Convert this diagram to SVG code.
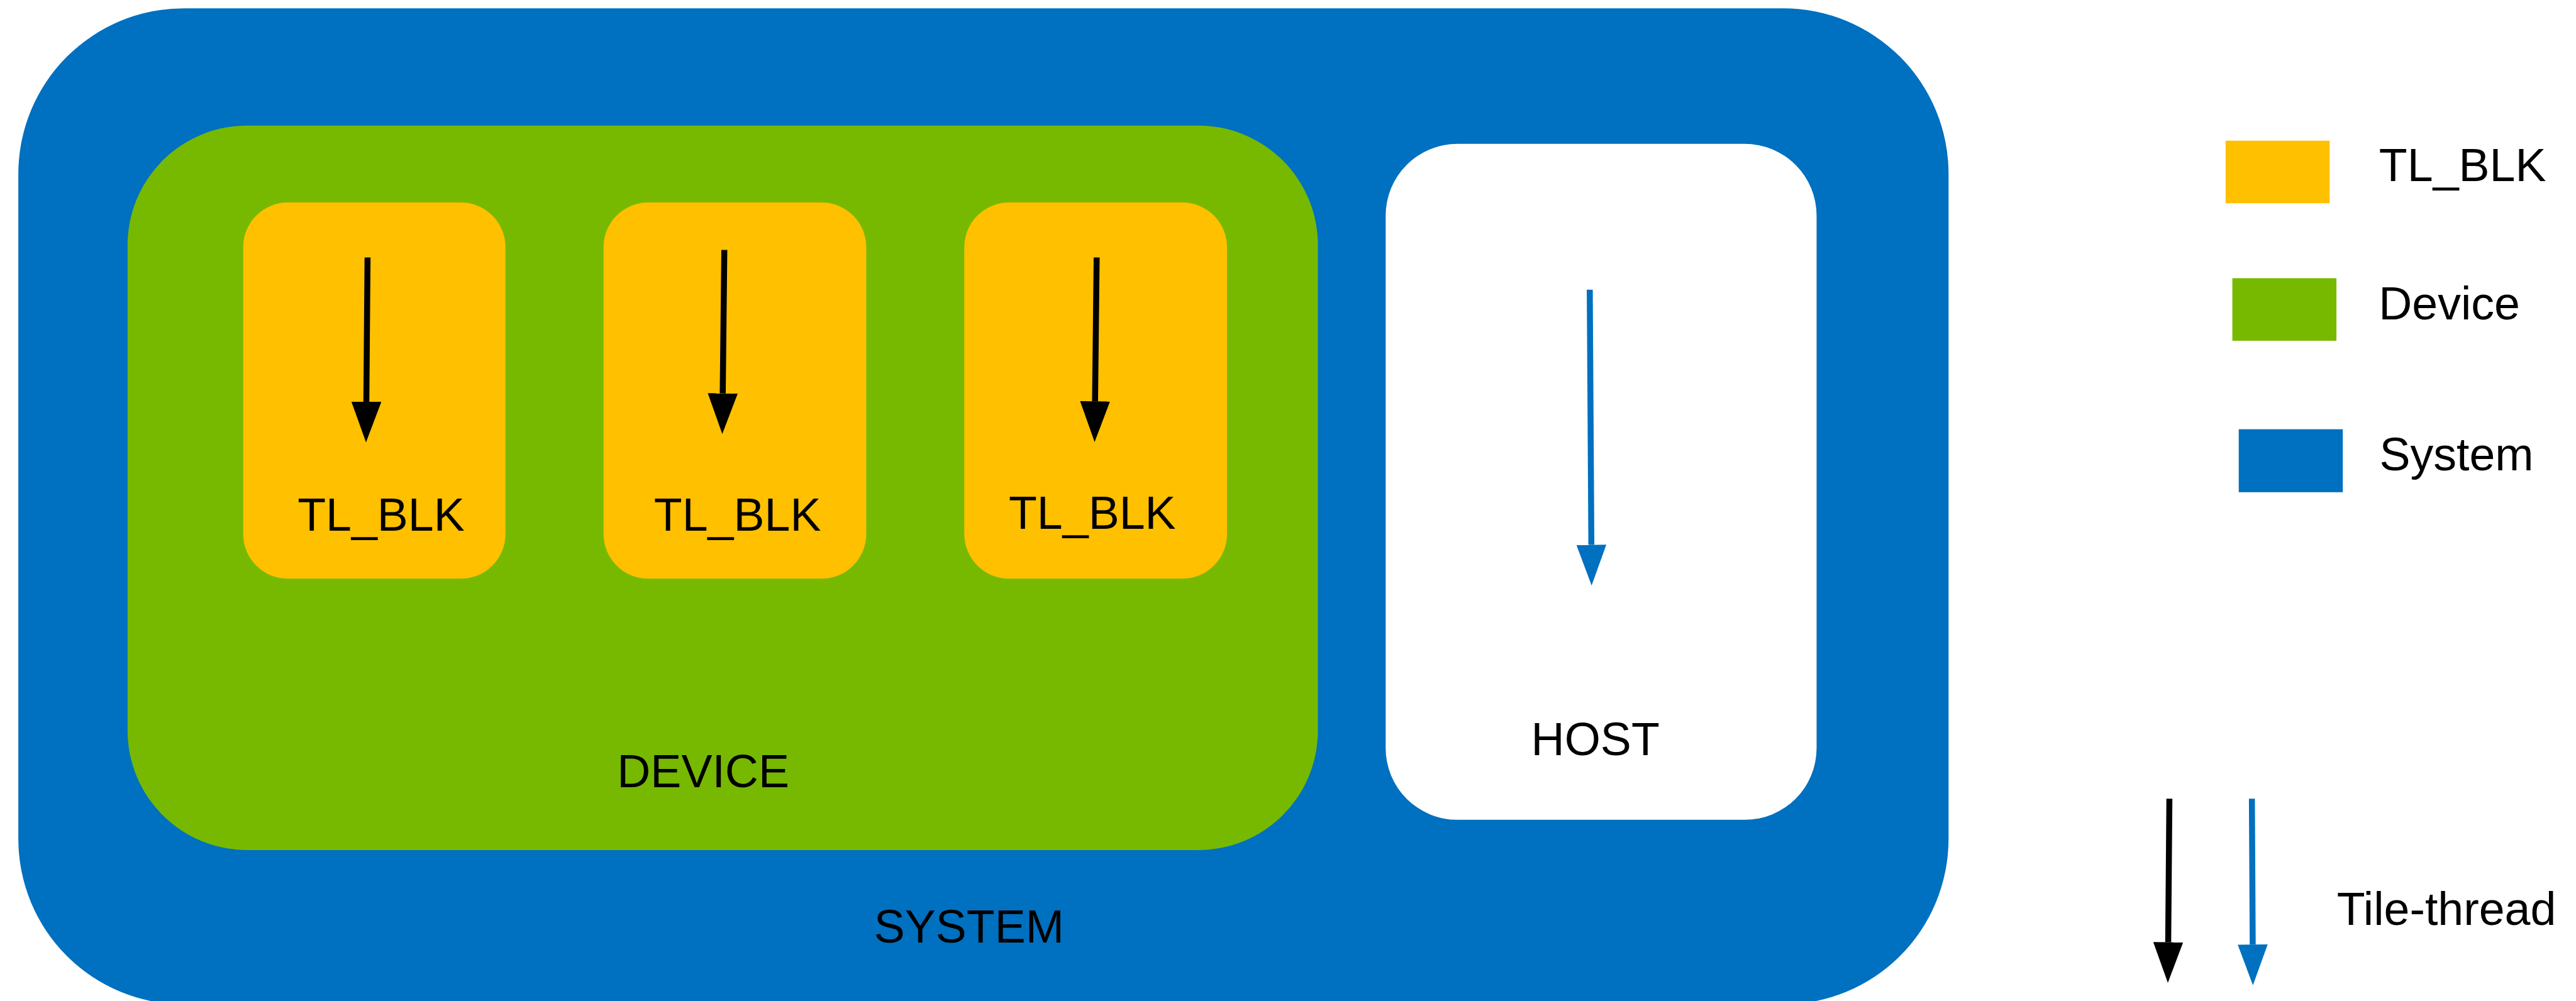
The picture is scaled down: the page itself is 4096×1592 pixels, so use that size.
<svg xmlns="http://www.w3.org/2000/svg" width="4096" height="1592" viewBox="0 0 4096 1592">
  <style>
    .lbl { font-family: "Liberation Sans", Arial, sans-serif; font-size: 116px; fill: #000; }
    .mid { text-anchor: middle; }
    .sys { fill: #0070C0; }
    .dev { fill: #76B900; }
    .blk { fill: #FFC000; }
    .host { fill: #FFFFFF; }
    .thread { fill: none; stroke-width: 15; }
    .k { stroke: #000; }
    .b { stroke: #0070C0; }
  </style>
  <defs>
    <marker id="headK" markerUnits="userSpaceOnUse" viewBox="0 0 102 75" markerWidth="102" markerHeight="75" refX="0" refY="37.5" orient="auto">
      <path d="M0,0 L102,37.5 L0,75 Z" fill="#000"/>
    </marker>
    <marker id="headB" markerUnits="userSpaceOnUse" viewBox="0 0 102 75" markerWidth="102" markerHeight="75" refX="0" refY="37.5" orient="auto">
      <path d="M0,0 L102,37.5 L0,75 Z" fill="#0070C0"/>
    </marker>
  </defs>
  <rect width="4096" height="1592" fill="#FFFFFF"/>
  <!-- drawn in source units, scaled to the window -->
  <g transform="scale(0.633859)">
    <g id="system">
      <rect class="sys" x="46" y="21" width="4842" height="2499" rx="415" ry="415"/>
      <text class="lbl mid" x="2431" y="2365">SYSTEM</text>
    </g>
    <g id="device">
      <rect class="dev" x="320" y="315" width="2986" height="1818" rx="300" ry="300"/>
      <text class="lbl mid" x="1764" y="1975">DEVICE</text>
    </g>
    <g id="host">
      <rect class="host" x="3476" y="361" width="1081" height="1696" rx="180" ry="180"/>
      <text class="lbl mid" x="4002" y="1894">HOST</text>
    </g>
    <g id="tl_blk_1">
      <rect class="blk" x="610" y="508" width="658" height="944" rx="112" ry="112"/>
      <text class="lbl mid" x="956" y="1332">TL_BLK</text>
    </g>
    <g id="tl_blk_2">
      <rect class="blk" x="1514" y="508" width="659" height="944" rx="112" ry="112"/>
      <text class="lbl mid" x="1850" y="1332">TL_BLK</text>
    </g>
    <g id="tl_blk_3">
      <rect class="blk" x="2419" y="508" width="659" height="944" rx="112" ry="112"/>
      <text class="lbl mid" x="2740" y="1327">TL_BLK</text>
    </g>

    <!-- tile threads -->
    <g id="connectors">
      <line class="thread k" x1="922" y1="646" x2="919" y2="1008" marker-end="url(#headK)"/>
      <line class="thread k" x1="1817" y1="627" x2="1813" y2="987" marker-end="url(#headK)"/>
      <line class="thread k" x1="2751" y1="646" x2="2747" y2="1007" marker-end="url(#headK)"/>
      <line class="thread b" x1="3988" y1="727" x2="3992" y2="1367" marker-end="url(#headB)"/>
      <line class="thread k" x1="5442" y1="2004" x2="5439" y2="2364" marker-end="url(#headK)"/>
      <line class="thread b" x1="5649" y1="2004" x2="5651" y2="2370" marker-end="url(#headB)"/>
    </g>

    <!-- legend -->
    <g id="legend_tl_blk">
      <rect class="blk" x="5583" y="353" width="261" height="157"/>
      <text class="lbl" x="5968" y="455">TL_BLK</text>
    </g>
    <g id="legend_device">
      <rect class="dev" x="5600" y="698" width="261" height="157"/>
      <text class="lbl" x="5967" y="801">Device</text>
    </g>
    <g id="legend_system">
      <rect class="sys" x="5616" y="1077" width="261" height="158"/>
      <text class="lbl" x="5969" y="1180">System</text>
    </g>
    <g id="legend_thread">
      <text class="lbl" x="5862" y="2321">Tile-thread</text>
    </g>
  </g>
</svg>
